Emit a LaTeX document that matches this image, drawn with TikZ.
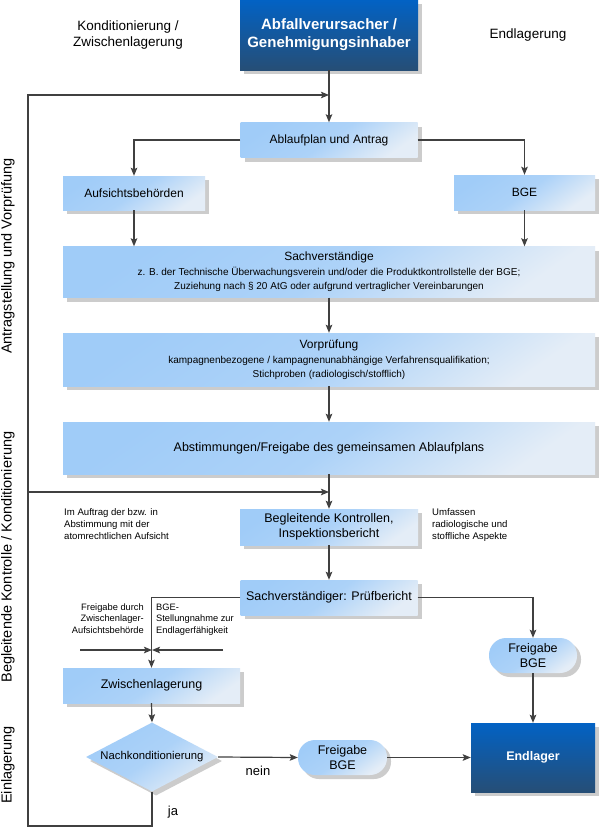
\documentclass[tikz,border=0pt]{standalone}
\usepackage{fontspec}
\setmainfont{Liberation Sans}
\usetikzlibrary{shadows,arrows.meta,shapes.geometric}
\definecolor{lbA}{RGB}{160,204,248}
\definecolor{lbB}{RGB}{228,237,247}
\definecolor{dbA}{RGB}{2,98,196}
\definecolor{dbB}{RGB}{38,78,118}
\definecolor{ln}{RGB}{64,64,64}
\definecolor{shd}{RGB}{204,204,204}
\newcommand\myfs[2]{\fontsize{#1}{#2}\selectfont}
\begin{document}
\begin{tikzpicture}[x=1pt,y=-1pt,
  shadowed/.style={drop shadow={shadow xshift=4pt,shadow yshift=-4pt,fill=shd,opacity=1}},
  lbox/.style={rectangle,inner sep=0pt,align=center,shadowed,
    top color=lbA,bottom color=lbB,middle color=lbA!82!lbB,shading angle=35,text=black,
    font=\myfs{12}{14}},
  dbox/.style={rectangle,inner sep=0pt,align=center,shadowed,
    top color=dbA,bottom color=dbB,text=white,font=\bfseries\myfs{15}{18}},
  pill/.style={lbox,rounded corners=17pt},
  dec/.style={diamond,inner sep=0pt,shadowed,aspect=1.9,
    top color=lbA,bottom color=lbB,middle color=lbA!82!lbB,shading angle=35,
    font=\myfs{11.3}{13}},
  conn/.style={draw=ln,line width=1.2pt,-{Stealth[length=8pt,width=6.5pt,inset=1.5pt]}},
  note/.style={inner sep=0pt,font=\myfs{9.6}{12}},
  side/.style={rotate=90,inner sep=0pt,font=\myfs{14.5}{16}},
  head/.style={inner sep=0pt,align=center,font=\myfs{13.5}{16}},
  small/.style={font=\myfs{10}{11.5}}
]
\useasboundingbox (0,0) rectangle (600,827);
\fill[white] (0,0) rectangle (600,827);

% headers
\node[head] (hl) at (128,35) {Konditionierung /\\Zwischenlagerung};
\node[head] (hr) at (528,35) {Endlagerung};

% side labels
\node[side] (s1) at (8,256) {Antragstellung und Vorprüfung};
\node[side] (s2) at (8,557) {Begleitende Kontrolle / Konditionierung};
\node[side] (s3) at (8,765) {Einlagerung};

% boxes
\node[dbox,minimum width=178pt,minimum height=70pt] (top) at (329,35) {Abfallverursacher /\\Genehmigungsinhaber};
\node[lbox,minimum width=177pt,minimum height=35pt] (ablauf) at (329,140) {Ablaufplan und Antrag};
\node[lbox,minimum width=142pt,minimum height=34pt] (aufs) at (134,193) {Aufsichtsbehörden};
\node[lbox,minimum width=141pt,minimum height=35pt] (bge) at (524.5,192.5) {BGE};
\node[lbox,minimum width=532pt,minimum height=51pt] (sachv) at (329,272)
  {Sachverständige\\[1pt]{\myfs{10}{11.5}z. B. der Technische Überwachungsverein und/oder die Produktkontrollstelle der BGE;}\\{\myfs{10}{11.5}Zuziehung nach § 20 AtG oder aufgrund vertraglicher Vereinbarungen}};
\node[lbox,minimum width=532pt,minimum height=53pt] (vorpr) at (329,359.5)
  {Vorprüfung\\[1pt]{\myfs{10}{11.5}kampagnenbezogene / kampagnenunabhängige Verfahrensqualifikation;}\\{\myfs{10}{11.5}Stichproben (radiologisch/stofflich)}};
\node[lbox,minimum width=532pt,minimum height=52pt,font=\myfs{12.5}{14}] (abst) at (329,448) {Abstimmungen/Freigabe des gemeinsamen Ablaufplans};
\node[lbox,minimum width=178pt,minimum height=36pt,font=\myfs{12.5}{15}] (begl) at (329,527) {Begleitende Kontrollen,\\Inspektionsbericht};
\node[lbox,minimum width=177pt,minimum height=35pt,font=\myfs{12.5}{15}] (pruef) at (329,597.5) {Sachverständiger: Prüfbericht};
\node[lbox,minimum width=177pt,minimum height=35pt,font=\myfs{12.5}{15}] (zwisch) at (151.5,685.5) {Zwischenlagerung};
\node[dec,minimum width=132pt,minimum height=69pt] (nachk) at (152,757) {Nachkonditionierung};
\node[pill,minimum width=88pt,minimum height=35pt,font=\myfs{12.5}{15}] (frei1) at (533,655.5) {Freigabe\\BGE};
\node[pill,minimum width=89pt,minimum height=35pt,font=\myfs{12.5}{15}] (frei2) at (342.5,757.5) {Freigabe\\BGE};
\node[dbox,minimum width=124pt,minimum height=69pt,font=\bfseries\myfs{12.5}{15}] (endl) at (533,757.5) {Endlager};

% notes
\node[note,anchor=north west,align=left] (n1) at (64,508) {Im Auftrag der bzw. in\\Abstimmung mit der\\atomrechtlichen Aufsicht};
\node[note,anchor=north west,align=left] (n2) at (432,508) {Umfassen\\radiologische und\\stoffliche Aspekte};
\node[note,anchor=north east,align=right,font=\myfs{9.3}{11.5}] (n3) at (144,603.5) {Freigabe durch\\Zwischenlager-\\Aufsichtsbehörde};
\node[note,anchor=north west,align=left,font=\myfs{9.3}{11.5}] (n4) at (156,603.5) {BGE-\\Stellungnahme zur\\Endlagerfähigkeit};
\node[inner sep=0pt,font=\myfs{13}{15}] (ja) at (173,812) {ja};
\node[inner sep=0pt,font=\myfs{13}{15}] (nein) at (258,771) {nein};

% coordinates
\coordinate (j1) at (329,95);
\coordinate (j2) at (329,492);
\coordinate (lt) at (28,95);
\coordinate (lm) at (28,492);
\coordinate (lb) at (28,826);
\coordinate (db) at (152,826);
\coordinate (cl) at (80,650);
\coordinate (cr) at (223,650);
\coordinate (cm) at (152,650);

% connectors
\draw[conn] (top.south) -- (ablauf.north);
\draw[conn] (ablauf.west) -| (aufs.north);
\draw[conn] (ablauf.east) -| (bge.north);
\draw[conn] (aufs.south) -- (aufs.south |- sachv.north);
\draw[conn] (bge.south) -- (bge.south |- sachv.north);
\draw[conn] (sachv.south) -- (vorpr.north);
\draw[conn] (vorpr.south) -- (abst.north);
\draw[conn] (abst.south) -- (begl.north);
\draw[conn] (begl.south) -- (pruef.north);
\draw[conn] (pruef.west) -| (zwisch.north);
\draw[conn] (pruef.east) -| (frei1.north);
\draw[conn] (frei1.south) -- (endl.north);
\draw[conn] (zwisch.south) -- (nachk.north);
\draw[conn] (nachk.east) -- (frei2.west);
\draw[conn] (frei2.east) -- (endl.west);
\draw[conn] (nachk.south) -- (db) -- (lb) -- (lt) -- (j1);
\draw[conn] (lm) -- (j2);
\draw[conn] (cl) -- (cm);
\draw[conn] (cr) -- (cm);
\end{tikzpicture}
\end{document}
